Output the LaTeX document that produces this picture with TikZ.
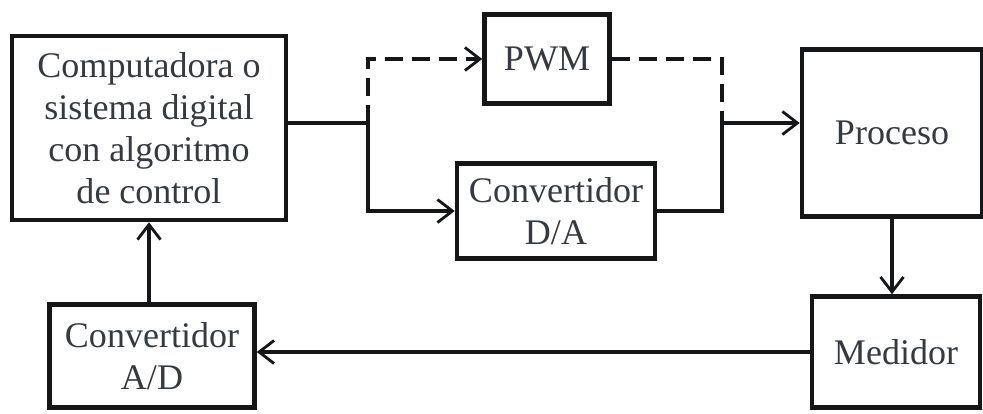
\documentclass[tikz,border=0pt]{standalone}
\usepackage{fontspec}
\setmainfont{Liberation Serif}
\usepackage{tikz}
\usetikzlibrary{arrows.meta,positioning,calc}
\definecolor{DiagInk}{RGB}{20,22,24}
\definecolor{DiagText}{RGB}{52,58,64}

\begin{document}
\begin{tikzpicture}[
  x=0.02cm,y=-0.02cm,
  box/.style={
    draw=DiagInk,line width=2.6pt,align=center,
    inner sep=0pt,text=DiagText,
    font=\fontsize{20.5}{24}\selectfont
  },
  conn/.style={line width=2.1pt,DiagInk},
  arr/.style={conn,-{Straight Barb[length=3mm,width=4.6mm,line width=1.6pt]}},
  pulse/.style={conn,dash pattern=on 3.6mm off 1.8mm}
]
  \useasboundingbox (0,0) rectangle (983,413);
  \node[box,minimum width=5.48cm,minimum height=3.68cm] (comp) at (149,128)
    {Computadora o\\sistema digital\\con algoritmo\\de control};
  \node[box,minimum width=2.5cm,minimum height=1.78cm] (pwm) at (547,59) {PWM};
  \node[box,minimum width=3.96cm,minimum height=1.9cm] (da) at (556,211)
    {Convertidor\\D/A};
  \node[box,minimum width=3.6cm,minimum height=3.34cm] (proc) at (892,133) {Proceso};
  \node[box,minimum width=3.36cm,minimum height=2.22cm] (med) at (896,352) {Medidor};
  \node[box,minimum width=4.1cm,minimum height=2.06cm] (ad) at (152,356)
    {Convertidor\\A/D};
  \coordinate (split) at (368,123);
  \coordinate (merge) at (722,123);
  % salida del computador
  \draw[conn] (comp.east |- split) -- (split);
  \draw[pulse] (split) |- ($(pwm.west)+(-14,0)$);
  \draw[arr] ($(pwm.west)+(-16,0)$) -- (pwm.west);
  \draw[arr] (split) |- (da.west);
  % hacia el proceso
  \draw[pulse] (pwm.east) -| (merge);
  \draw[conn] (da.east) -| (merge);
  \draw[arr] (merge) -- (proc.west |- merge);
  % lazo de realimentacion
  \draw[arr] (proc.south) -- (proc.south |- med.north);
  \draw[arr] (med.west) -- (med.west -| ad.east);
  \draw[arr] (ad.north -| comp.south) -- (comp.south);
\end{tikzpicture}
\end{document}
